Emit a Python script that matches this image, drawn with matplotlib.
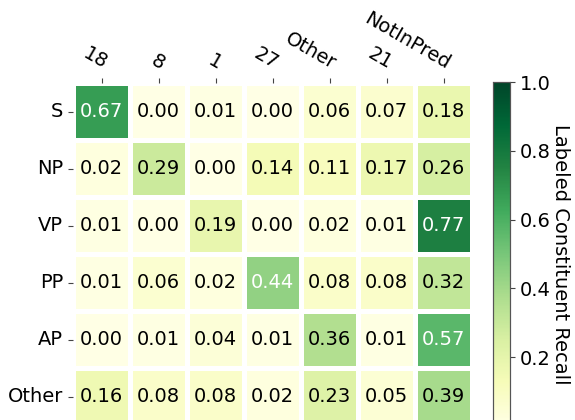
import numpy as np
import matplotlib
matplotlib.use("Agg")
import matplotlib.pyplot as plt
import seaborn as sns

# gold labels (rows) vs predicted clusters (columns)
row_labels = ["S", "NP", "VP", "PP", "AP", "Other"]
col_labels = ["18", "8", "1", "27", "Other", "21", "NotInPred"]

s_row = [0.67, 0.00, 0.01, 0.00, 0.06, 0.07, 0.18]
np_row = [0.02, 0.29, 0.00, 0.14, 0.11, 0.17, 0.26]
vp_row = [0.01, 0.00, 0.19, 0.00, 0.02, 0.01, 0.77]
pp_row = [0.01, 0.06, 0.02, 0.44, 0.08, 0.08, 0.32]
ap_row = [0.00, 0.01, 0.04, 0.01, 0.36, 0.01, 0.57]
other_row = [0.16, 0.08, 0.08, 0.02, 0.23, 0.05, 0.39]

recall = np.array([s_row, np_row, vp_row, pp_row, ap_row, other_row])

W, H = 575, 420
fig = plt.figure(figsize=(W / 100, H / 100), dpi=100)
# the bottom row runs slightly past the lower edge, as in the original crop
ax = fig.add_axes([73 / W, (H - 425) / H, (472 - 73) / W, (425 - 83) / H])
cax = fig.add_axes([493 / W, (H - 426) / H, 17 / W, (426 - 82) / H])

sns.heatmap(recall, ax=ax, cbar_ax=cax, cmap="YlGn", vmin=0, vmax=1,
            annot=True, fmt=".2f", annot_kws={"fontsize": 14},
            linewidths=2.5, linecolor="white",
            xticklabels=col_labels, yticklabels=row_labels)

# white text on the darker cells
for t in ax.texts:
    t.set_color("white" if float(t.get_text()) > 0.4 else "black")

ax.xaxis.tick_top()
ax.set_xticklabels(col_labels, rotation=-30, ha="right",
                   rotation_mode="anchor", fontsize=14)
ax.set_yticklabels(row_labels, rotation=0, fontsize=14)
ax.tick_params(color="#444444")

cax.tick_params(labelsize=14, color="#444444")
cax.set_yticks([0.2, 0.4, 0.6, 0.8, 1.0])
cax.set_ylabel("Labeled Constituent Recall", rotation=270, labelpad=14, fontsize=14)
for sp in cax.spines.values():
    sp.set_visible(True)
    sp.set_linewidth(0.8)
    sp.set_edgecolor("#555555")

fig.savefig("out.png", dpi=100)
